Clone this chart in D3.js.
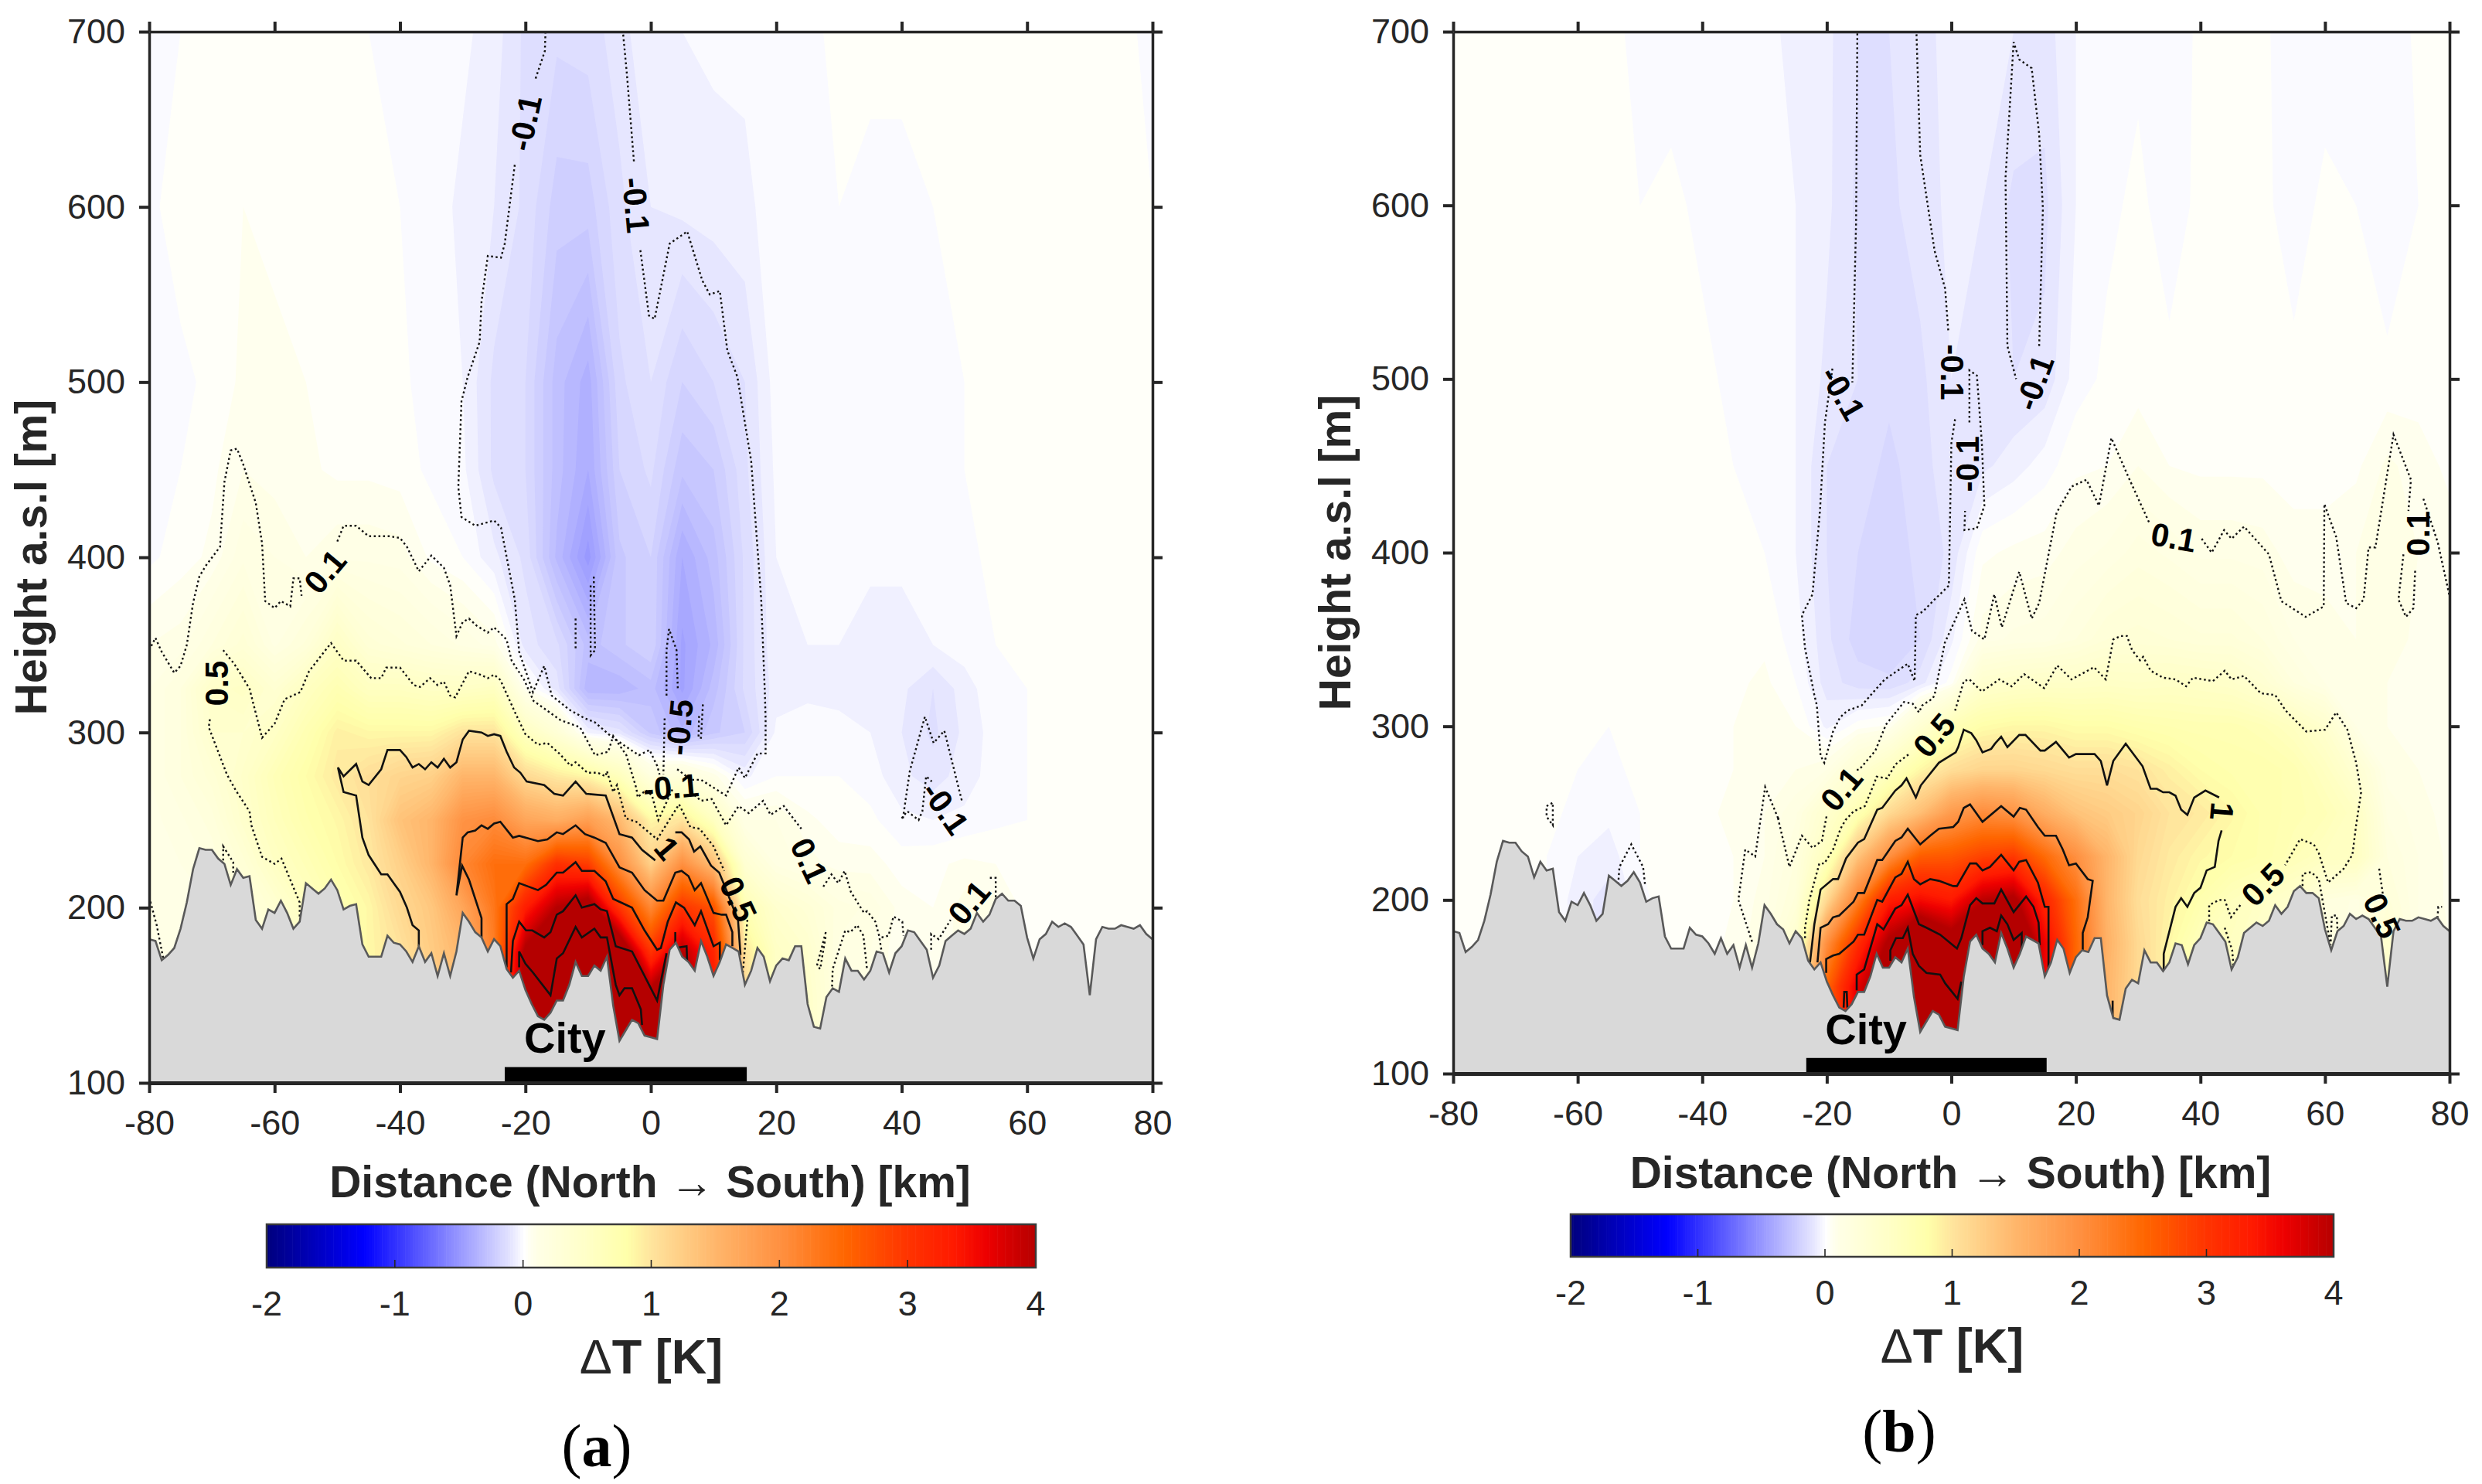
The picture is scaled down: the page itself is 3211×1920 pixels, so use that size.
<!DOCTYPE html>
<html>
<head>
<meta charset="utf-8">
<script src="https://cdn.jsdelivr.net/npm/d3@7"></script>
<style>
  html, body { margin: 0; background: #fff; }
  text { font-family: "Liberation Sans", Arial, sans-serif; fill: #262626; }
  .title { font-size: 57px; font-weight: bold; }
  .clabel { font-size: 42px; font-weight: bold; fill: #000; }
  .tag { font-family: "Liberation Serif", serif; font-size: 78px; fill: #000; }
</style>
</head>
<body>
<svg id="chart" width="3211" height="1920"></svg>
<script>
// ---------- data ----------
const xTicks = [-80, -60, -40, -20, 0, 20, 40, 60, 80];
const yTicks = [100, 200, 300, 400, 500, 600, 700];
const barTicks = [-2, -1, 0, 1, 2, 3, 4];
const cityBar = [-23.3, 15.3];
const cityBarTop = 109;

const colorStops = [-2, -1.25, -1, -0.5, -0.1, -0.05, 0, 0.05, 0.1, 0.5, 0.8, 1, 1.5, 2, 2.5, 3, 3.35, 3.6, 4];
const colorValues = ["#00007f", "#0000ff", "#3333ff", "#9999ff", "#e6e6ff", "#f3f3ff", "#ffffff", "#fffff0", "#ffffe6", "#ffffc6", "#ffffaa", "#ffe39c",
  "#ffb56a", "#ff9040", "#ff6600", "#ff3300", "#ff1a00", "#ee0000", "#b40000"];

// ground height, one value per km from -80 to 80
const terrain = [182,181,170,173,177,188,203,222,234,233,233,228,225,213,222,217,218,193,188,199,
  197,204,197,188,192,214,211,208,211,216,210,199,201,202,179,172,172,172,184,180,
  179,175,169,178,169,174,161,174,161,175,197,192,186,183,175,182,178,165,160,164,
  153,145,138,136,140,147,147,156,169,161,161,167,164,172,144,124,130,136,134,127,
  126,125,156,176,180,172,169,164,181,172,161,169,179,177,175,156,164,177,172,158,
  167,171,170,178,178,145,132,131,149,154,152,171,164,164,159,164,175,174,163,174,
  178,187,186,181,176,160,167,181,184,187,185,188,197,192,196,205,208,204,204,201,
  183,171,182,185,192,189,191,189,184,179,150,182,189,188,188,190,189,188,190,185,182];

// dT field: columns at fieldKm, rows at fieldH
const fieldKm = [-80,-75,-70,-65,-60,-55,-50,-45,-40,-35,-30,-25,-20,-15,-10,-5,0,5,10,15,20,25,30,35,40,45,50,55,60,65,70,75,80];
const fieldH = [700,600,500,450,400,350,325,300,275,250,225,200,175,150,125];

const fieldA = [
  [-.02,0,.02,.03,.02,.02,.01,0,-.01,-.01,-.03,-.06,-.13,-.15,-.14,-.1,-.04,-.04,-.03,-.03,-.02,-.01,.01,.01,.01,.01,.01,.01,.01,.01,.01,.01,-.01],
  [-.01,.02,.03,.04,.03,.02,.01,.01,0,-.02,-.05,-.08,-.13,-.22,-.22,-.13,-.08,-.07,-.06,-.05,-.02,-.01,0,-.01,-.01,0,.01,.01,.01,.01,.01,.01,0],
  [-.02,-.01,.01,.05,.05,.04,.02,.02,.01,-.02,-.04,-.13,-.16,-.3,-.38,-.17,-.12,-.2,-.16,-.12,-.02,-.02,-.01,-.01,-.02,-.01,0,.01,.01,.01,.01,.01,0],
  [-.01,0,.03,.08,.06,.05,.03,.03,.02,-.01,-.03,-.13,-.16,-.3,-.4,-.2,-.15,-.27,-.24,-.13,-.03,-.02,-.01,-.02,-.01,-.01,0,.01,.01,.01,.01,.01,0],
  [-.01,.02,.05,.15,.12,.08,.11,.11,.1,.03,0,-.07,-.13,-.33,-.5,-.25,-.2,-.4,-.3,-.15,-.04,-.03,-.03,-.03,-.03,-.03,-.01,.01,.01,.01,0,0,0],
  [.08,.1,.2,.3,.15,.25,.5,.3,.25,.2,.15,.1,-.1,-.15,-.3,-.25,-.2,-.45,-.35,-.15,-.05,-.04,-.04,-.06,-.06,-.04,-.02,0,.01,.01,.01,0,0],
  [.12,.2,.45,.5,.35,.55,.7,.55,.55,.5,.5,.55,.05,-.1,-.35,-.35,-.3,-.45,-.3,-.15,-.06,-.05,-.05,-.08,-.07,-.12,-.06,-.01,0,.01,.01,0,0],
  [.12,.2,.4,.4,.5,.7,.9,.85,.85,.85,1,1,.55,.3,-.05,-.1,-.25,-.35,-.25,-.2,-.03,-.02,-.03,-.04,-.08,-.13,-.07,-.02,0,.01,.01,.01,.01],
  [.12,.2,.3,.45,.65,.8,.95,1.05,1.15,1.2,1.5,1.5,1.1,.95,.85,.6,.2,.25,.1,-.05,0,0,0,-.02,-.07,-.1,-.06,-.02,0,.01,.01,.01,.01],
  [.1,.15,.22,.42,.6,.75,.85,1,1.35,1.5,1.95,2.05,1.7,1.6,1.8,1.45,.85,1,.55,.12,.12,.05,.02,.01,-.03,-.04,-.03,-.01,0,.01,.01,.01,.01],
  [.08,.12,.17,.3,.52,.65,.8,.95,1.2,1.5,2.1,2.4,2.4,3.05,2.9,2,1.2,2,1.4,.35,.15,.1,.06,.06,.02,.03,.05,.04,0,0,.01,.01,.01],
  [.08,.1,.12,.2,.35,.55,.7,.85,1.1,1.3,1.7,2.3,3.3,4,4.3,3,2.1,3,2.7,.7,.4,.3,.18,.15,.06,.04,.1,.1,.02,.02,.02,.01,.01],
  [.08,.1,.1,.15,.3,.5,.7,.85,1,1.25,1.5,2.2,4.1,4.6,5,4.6,3,4,3.2,1,.5,.4,.15,.12,.05,.05,.1,.1,.02,.02,.03,.01,.01],
  [.08,.1,.1,.15,.3,.5,.7,.85,1,1.2,1.4,2,4.4,5.3,5.5,5.1,4.2,4.5,3.4,1.1,.5,.45,.15,.12,.05,.05,.1,.1,.02,.02,.03,.01,.01],
  [.08,.1,.1,.15,.3,.5,.7,.85,1,1.2,1.4,2,4.5,5.4,5.5,5.2,4.5,4.5,3.4,1.1,.5,.45,.15,.12,.05,.05,.1,.1,.02,.02,.03,.01,.01]
];

const fieldB = [
  [.01,.02,.02,.02,.01,.02,-.02,-.02,-.03,-.04,-.03,-.05,-.07,-.12,-.12,-.09,-.07,-.06,-.08,-.1,-.04,-.02,-.01,-.03,.01,.01,.01,-.03,-.02,-.04,-.03,.01,.02],
  [.03,.03,.03,.02,.03,.02,0,.01,-.01,-.02,-.03,-.04,-.07,-.13,-.13,-.1,-.07,-.08,-.13,-.13,-.04,-.01,.01,-.02,.01,.01,.01,-.02,.01,0,-.03,0,.02],
  [.02,.03,.02,.03,.02,.03,.02,.02,.01,-.01,-.01,-.04,-.09,-.12,-.15,-.13,-.08,-.09,-.12,-.11,-.02,.01,.02,.01,.01,.02,.02,.01,.01,.01,.01,.02,.02],
  [.02,.02,.02,.02,.03,.03,.02,.02,.01,0,-.01,-.04,-.12,-.14,-.17,-.14,-.09,-.09,-.06,-.02,.03,.04,.08,.04,.03,.03,.03,.02,.02,.03,.09,.06,.03],
  [.01,.01,.01,0,.01,.01,.02,.02,.02,.01,0,-.04,-.12,-.16,-.18,-.15,-.11,.03,.05,.06,.1,.13,.18,.15,.11,.11,.1,.06,.06,.08,.1,.08,.06],
  [.02,.01,.01,.01,0,.01,.01,.01,.02,.02,.03,-.02,-.11,-.18,-.2,-.16,-.05,.1,.13,.14,.2,.28,.3,.28,.25,.25,.2,.12,.1,.08,.1,.07,.05],
  [.02,.01,.01,.01,0,0,.01,.02,.03,.03,.05,0,-.1,-.14,-.15,-.1,.02,.4,.45,.48,.48,.5,.48,.5,.48,.45,.35,.2,.12,.1,.08,.07,.04],
  [.03,.02,.01,.01,0,0,.01,.02,.03,.04,.05,.04,-.05,.02,.05,.35,.65,.8,.85,.85,.8,.8,.75,.72,.7,.7,.65,.55,.4,.12,.08,.07,.05],
  [.03,.02,.01,.01,0,-.01,.01,.02,.03,.04,.06,.08,.12,.35,.55,.85,1.05,1.15,1.15,1.1,1.05,1.05,1,.9,.8,.75,.75,.7,.55,.35,.1,.08,.05],
  [.03,.03,.02,.01,-.01,-.03,0,.02,.03,.05,.08,.15,.4,.7,1.1,1.4,1.85,2.05,1.95,1.6,1.35,1.25,1.15,1,.95,.85,.75,.7,.65,.52,.15,.1,.06],
  [.03,.03,.02,0,-.04,-.06,0,.02,.03,.04,.08,.2,.6,1.35,2,2.6,2.65,2.85,2.95,2.45,2,1.5,1.1,.95,.85,.8,.75,.65,.55,.55,.2,.12,.07],
  [.03,.03,.02,0,-.06,-.1,-.01,.02,.02,.04,.1,.25,1.1,2.2,3.3,3.5,3.35,3.95,4.1,3.2,2.4,1.5,1.05,.9,.75,.6,.5,.4,.2,.15,.25,.12,.07],
  [.03,.03,.02,.01,-.06,-.1,-.01,.02,.02,.05,.12,.4,2,3.1,4.1,4.8,4.3,4.7,4.9,3.6,2.5,1.55,1.1,.85,.6,.55,.4,.35,.2,.12,.4,.12,.08],
  [.03,.03,.02,.01,-.05,-.08,-.01,.02,.02,.05,.12,.5,2.5,3.7,4.5,5.2,5,5,5,3.6,2.5,1.5,1.1,.85,.6,.5,.4,.3,.2,.12,.45,.12,.08],
  [.03,.03,.02,.01,-.05,-.08,-.01,.02,.02,.05,.12,.5,2.5,3.7,4.5,5.2,5,5,5,3.6,2.5,1.5,1.1,.85,.6,.5,.4,.3,.2,.12,.45,.12,.08]
];

// contour lines, [km, height], null = gap in the line
const dashedA = [
  // 0.1
  [[-80,347],[-79,354],[-78,346],[-76,334],[-75,338],[-74,350],[-73,374],[-72,389],[-71,395],[-68.7,406],[-68,443],[-67,461],[-66,462],[-65,453],[-63,431],[-62,408],[-61.5,375],[-60,371],[-59,375],[-57.5,372],[-57,388],[-56,388],[-55.7,378],null,
   [-50,409],[-49,418],[-47,418],[-45,412],[-41.7,412],[-40,411],[-38.9,406],[-37,392],[-35,401],[-33,394],[-32,384],[-31,355],[-30,363],[-29,365],[-27.8,361],[-26,357],[-25,360],[-23,353],[-22.2,341],[-20.2,330],[-18.7,318],[-14.4,307],[-11.3,303],[-8.9,287],[-6.8,289],[-6,298],[-3.9,287],[-2.3,268],[-2.1,263],[-0.8,267],[0.2,264],[1.2,250],[3.5,268],null,
   [6.4,266],[8,261],[9.7,262],[12,247],[14,258],[15.6,254],[17.9,261],[19.1,253],[21.2,258],[24,245],null,[27.5,212],[28.8,219],[29.9,214],[30.9,221],[31.9,209],[34,197],[34.5,198],[35.8,192],[36.4,184],[36.8,175]],
  [[36.8,183],[37.9,184],[38.7,195],[40.1,192],[40.3,184]],
  [[44.7,176],[44.7,185],[45.9,182],[47.8,193]],
  [[55,206],[55,217],[54,217]],
  [[28.9,155],[29,165],[31,187],[31.8,186],[32.9,190],[33.9,184],[34.5,164]],
  [[27.9,186],[26.5,167],[27,165],[27.9,184]],
  [[-80,206],[-78.8,190],[-77.7,170]],
  [[-68.2,227],[-68.2,235],[-66.6,226],[-66.6,220]],
  // 0.5
  [[-56,195],[-56,203],[-58.9,228],[-60,225],[-62,229],[-63.7,247],[-64,255],[-66.2,267],[-67.6,276],[-70.5,303],[-70.3,308],null,[-68.2,347],[-66.4,339],[-64,325],[-62,297],[-60,305],[-58.4,319],[-55.9,323],[-54.5,335],[-51,351],[-49,341],[-47,341],[-44.6,331],[-43,331],[-42.2,337],[-40,337],[-37.8,327],[-36.8,326],[-35.2,331],[-34,327],[-33,329],[-32,321],[-31.2,320],[-29,335],[-27.2,333],[-26,331],[-25,333],[-24,330],[-21.6,311],[-20,299],[-18,293],[-16.5,294],[-14.6,288],[-12.8,281],[-12,283],[-10.1,277],[-8.5,277],[-7.2,275],[-7,278],[-6,266],[-5.4,270],[-4,251],[-2.3,249],[1,239],[4.5,259],[6.3,246],[7.8,245],[10,235],[11.7,221],null,[15.4,193],[14.5,156]],
  // -0.1
  [[-16.8,700],[-16.9,689],[-18.4,673],null,[-21.7,624],[-23.3,579],[-23.9,571],[-26,572],[-27,546],[-27.3,523],[-29.2,503],[-30.2,489],[-30.7,440],[-30.2,423],[-28,418],[-25,421],[-23.9,417],[-21.7,376],[-21,346],[-18.8,323],[-17,338],[-15.8,321],[-13,313],[-10.5,308],[-9,306],[-6.4,298],[-4,292],[-1.9,287],[-0.2,290],[1,281],[1.4,276],null,[4.2,279],[6.4,273],[8,273],[12,264],[14,280],[15,274],[17,288],[18.3,288],[18.3,308],[18.2,321],[17.6,376],[16,455],[13.8,503],[12.2,518],[11,552],[9.4,550],[8.2,558],[5.8,586],[3,579],[0.6,536],[-0.3,538],[-1.7,576],null,[-2.7,626],[-3.8,675],[-4.4,698],[-4.5,700]],
  [[40.2,251],[41.3,278],[43.7,309],[45.1,294],[46.8,301],[49.6,261]],
  [[40,251],[40.9,255],[42.7,250],[43.3,255],[43.9,275],[44.8,272]],
  // -0.5
  [[-12,365],[-12,348]],
  [[-9.1,389],[-8.9,347],[-9.6,344],[-9.6,385]],
  [[2.5,321],[2.5,347],[2.9,359],[4.1,347],[4.3,325]],
  [[2.2,308],[2,276]],
  [[8.3,316],[8,297],[7.6,297],[7.7,310]]
];
const solidA = [
  // 1
  [[-37,178],[-37,187],[-38,190],[-38.9,200],[-40,209],[-42,219],[-43,219],[-45,230],[-46,240],[-47,264],[-49,266],[-49.9,280],[-49,275],[-47,282],[-46,272],[-45,270],[-43,279],[-42,290],[-40,290],[-39,286],[-38,280],[-37,282],[-36,279],[-35,283],[-34,280],[-33,285],[-32,280],[-31,283],[-30,296],[-29,301],[-27,300],[-26,298],[-25,299],[-24,298],[-23,289],[-21.8,280],[-20.8,277],[-19.8,272],[-17,270],[-15.4,265],[-14,264],[-12,272],[-10.3,265],[-7.2,264],[-5,242],[-3,240],[-1.4,233],[0.7,227],null,[3.9,243],[4.9,243],[6.1,239],[6.9,232],[7.9,235],[9.6,224],[10.9,220],[11.7,213],[13.9,193],[14.3,173]],
  // 2
  [[-27,183],[-27,194],[-28,205],[-29,216],[-30.1,224],[-31,207],[-30,240],[-29.2,243],[-28,244],[-27,247],[-26,245],[-25,248],[-24,249],[-22,240],[-21,241],[-18,238],[-16.5,239],[-15,243],[-14,242],[-12,247],[-10.5,242],[-9,240],[-7.2,237],[-5,223],[-3,220],[-1,210],[1,204],[2,204],[3.9,220],[4.9,221],[6,218],[7,210],[8,214],[10,197],[11.3,196],[12,196],[13,186],[13,178]],
  // 3
  [[-23,166],[-23,202],[-22,205],[-21,214],[-18,210],[-16.7,213],[-15,220],[-14,220],[-12,226],[-11,221],[-9,221],[-7.2,215],[-6,205],[-3,200],[-1,187],[1,176],[1.6,177],[2.7,192],[4,203],[5.3,200],[7,190],[8,198],[10,178],[11,180],[11,170]],
  // 4
  [[-22.3,163],[-22,181],[-21,192],[-19.9,187],[-18.9,187],[-17,183],[-16,186],[-15,196],[-14,198],[-12,207],[-11,200],[-9,202],[-8,199],[-7,198],[-5.6,178],[-3,175],[-1,161],[1,147],[2.5,174]],
  [[3.9,186],[3.9,177],[5.7,178],[5.8,168]],
  // 5
  [[-21,166],[-21,175],[-20,168],[-18.8,163],[-16,150],[-15,171],[-14,174],[-12,189],[-11,183],[-9,188],[-8,183],[-7,183],[-5.6,156],[-5,150],[-4.2,154],[-3,154],[-1.6,142],[-1.4,133]]
];
const labelsA = ["-0.1", "-0.1", "0.1", "0.5", "-0.5", "-0.1", "1", "0.5", "0.1", "-0.1", "0.1"];
const labelKmA = [-20.1, -2.3, -52, -69.3, 4.5, 3.2, 2.6, 14, 25.3, 47, 50.7];
const labelHA = [648, 601, 392, 328, 303, 269, 234, 205, 227, 257, 203];
const labelAngleA = [-78, 85, -50, -90, -85, -5, 50, 65, 65, 55, -50];

const dashedB = [
  // 0.1
  [[-32,176],[-34.2,200],[-33.1,229],[-31.5,225],[-29.9,265],[-27.7,246],[-27.9,248],[-26,219],[-24,237],[-22.3,230],[-20.8,234],[-20,249],null,[-15.2,275],[-14.8,275],[-12.2,286],[-10.5,301],[-7.6,314],[-6.2,313],[-5.2,308],[-4.7,312],[-3,316],[-2.7,318],[-1.06,348],[2.1,373],[3.3,355],[5.3,350],[6.9,376],[8.1,357],[10.9,389],[12.9,362],[14.1,371],[16.9,423],[19.3,438],[21.7,442],[23.7,427],[25.7,466],[28.5,443],[31.8,417],null,[40.2,408],[41.8,400],[43.8,413],[45,408],[47,415],[51,399],[53,372],[56.9,363],[59.8,369],[59.9,428],[61.8,409],[63.4,371],[65,368],[66.2,373],[67,403],[68.1,403],[71,468],[73.8,442],[73.4,424],null,[72.6,399],[71.8,373],[73,363],[74.2,368],[74.5,391]],
  [[75.8,431],[78.1,406],[80,375]],
  [[-65,254],[-64,256],[-64,243],[-65,248],[-65,254]],
  [[-53.5,209],[-53.3,219],[-51.4,232],[-49.5,219],[-49.2,209]],
  [[56.4,208],[56.4,215],[57.8,216],[59,212],[60.9,174],[61.1,191],[61.9,191],[62,183]],
  [[43.9,184],[45.1,171],[45.3,162]],
  [[78,187],[78.2,196],[78.8,196]],
  // 0.5
  [[-23.5,178],[-23.5,184],[-22.8,200],[-21.2,221],[-20.4,221],[-19,229],[-17.8,241],[-17,246],[-15.7,251],[-13.9,254],[-12.4,267],[-12,271],[-10.3,270],[-9,278],[-6.8,284],null,[0.6,309],[2,326],[2.9,327],[4.9,320],[7.7,327],[9.7,323],[11.7,330],[14.9,322],[17,335],[19.3,327],[22.9,334],[24.8,327],[26,350],[27.2,352],[28.2,352],[29,344],[30.3,338],[30.8,340],[32,332],[34,328],[36,327],[37.7,323],[38.8,328],[42,326],[43.9,332],[45,327],[47,329],[49.7,319],[52,318],[53.7,309],[57,297],[60,298],[61.8,308],[63.6,298],[65,279],[65.8,262],[65,243],[64.4,226],[63,218],[60.5,210],[59,227],[58.2,232],[56,235],[53.6,220],null,[46.4,197],[44.9,190],[43.9,200],[43,200],[41.4,197],[41.4,187]],
  [[68.7,218],[69.3,203]],
  // -0.1
  [[-15.1,699],[-15.3,590],[-15.9,498]],
  [[-19.1,506],[-20.3,475],[-21.1,424],[-22.3,376],[-24,364],[-23.5,345],[-22,318],[-21.6,312],[-21,283],[-20.4,279],[-19,297],[-17.9,305],[-16.7,309],[-14.4,312],[-12.2,321],[-10.7,327],[-7,336],[-5.9,326],[-5.7,364],[-4.6,366],[-2.7,373],[-0.4,381],[0,463],[0.6,477],null,[-0.5,528],[-1,552],[-2.7,574],[-5,629],[-5.6,699]],
  [[2.9,475],[2.9,505],[4.1,502],[4.9,463],[5.3,427],[4.1,414],[2.1,413],[2.2,424]],
  [[14.1,519],[14.7,598],[14.1,641],[12.9,679],[10.9,684],[10,694],[8.7,616],[9,519],[10.4,500]]
];
const solidB = [
  // 1
  [[-22.7,164],[-22,186],[-21,206],[-19,212],[-18.2,212],[-16.9,224],[-15,233],[-14,235],[-11.9,252],[-11.1,253],[-9,263],[-8,266],[-7.2,270],[-5.7,259],[-4.9,266],[-2,279],[0.7,285],[1.1,288],[2,298],[3.2,296],[4,292],[5,285],[6.4,287],[7,290],[8,294],[9,288],[10.9,295],[11.9,295],[14.3,286],[15,286],[16.8,291],[18.9,282],[20,284],[23,284],[24,280],[25,266],[26,280],[28,290],[30.7,277],[32,264],[33,264],[34,262],[35,262],[36,260],[36.9,252],[37.9,249],[39,259],[40.8,263],[43,259],null,[43.4,240],[42.9,234],[42.3,219],[41,217],[40,207],[39,204],[37.9,196],[36.9,201],[36,196],[34.1,169],[34.1,159]],
  // 2
  [[-21.5,164],[-21,184],[-19.8,186],[-19,190],[-18,191],[-15.7,199],[-15,204],[-14,204],[-11.9,223],[-11.1,223],[-9,234],[-8,236],[-7,241],[-5,232],[-3.4,237],[-2,241],[0.3,242],[1.1,245],[2,253],[3,255],[4.2,249],[5,245],[8,254],[10,248],[11,253],[12,252],[13.9,242],[15,237],[16.8,237],[17.9,229],[18.9,220],[20,221],[21.9,212],[22.7,211],[21.9,190],[21.1,181],[21.1,171]],
  // 3
  [[-20.1,158],[-20.1,166],[-19,168],[-18,169],[-15.7,176],[-15,180],[-14,180],[-11.9,200],[-11.1,199],[-9,213],[-8,215],[-7,222],[-6,212],[-5,209],[-3.4,212],[-2,211],[0.3,208],[0.9,208],[3,221],[4,221],[5,217],[6.2,219],[8,226],[10,217],[10.9,222],[12,223],[13.9,210],[15,196],[15.6,196],[15.6,159]],
  // 4
  [[-15.2,148],[-15.2,157],[-14,160],[-11.9,186],[-10.9,183],[-9,195],[-8,197],[-7,203],[-5.2,186],[-4,184],[-1.8,180],[0.9,172],[1.6,178],[3,197],[4,201],[5,198],[6.9,198],[8,206],[10,193],[12,202],[13.2,196],[14,187],[14.2,174]],
  // 5
  [[-9.8,165],[-9.8,171],[-8.9,178],[-7.8,178],[-7,184],[-6.2,169],[-5.2,162],[-4,158],[-1.8,157],[-1,152],[1,143],[1.6,153]],
  [[5,174],[5,182],[6.2,184],[7.3,182],[8,191],[9,186],[10,177],[11.3,181],[11.3,172]],
  [[-17.3,138],[-17.2,147],[-16.8,147],[-16.7,138]],
  [[25.9,142],[25.9,132]]
];
const labelsB = ["-0.1", "-0.1", "-0.1", "-0.1", "0.1", "0.1", "0.5", "0.1", "1", "0.5", "0.5"];
const labelKmB = [-17.4, 0.2, 2.5, 13.3, 35.7, 74.9, -2.8, -17.7, 43.5, 50, 69.2];
const labelHB = [492, 504, 451, 498, 409, 411, 295, 264, 251, 209, 191];
const labelAngleB = [60, 90, -90, -70, 10, -90, -50, -50, 95, -45, 65];

// ---------- drawing ----------
const svg = d3.select("#chart");
const color = d3.scaleLinear().domain(colorStops).range(colorValues).clamp(true);
const levelStep = 0.04;
const levels = d3.range(-1, 4.01, levelStep);
const terrainKm = d3.range(-80, 81);

function drawPanel(id, opt) {
  const g = svg.append("g").attr("id", id);
  const x = d3.scaleLinear().domain([-80, 80]).range([opt.left, opt.right]);
  const y = d3.scaleLinear().domain([100, 700]).range([opt.bottom, opt.top]);

  g.append("clipPath").attr("id", id + "-clip").append("rect")
    .attr("x", opt.left).attr("y", opt.top)
    .attr("width", opt.right - opt.left).attr("height", opt.bottom - opt.top);
  const plot = g.append("g").attr("clip-path", `url(#${id}-clip)`);

  // filled field
  const kmOfCol = d3.scaleLinear().domain([0, fieldKm.length - 1]).range([fieldKm[0], fieldKm[fieldKm.length - 1]]);
  const hOfRow = d3.scaleLinear().domain(fieldH.map((d, i) => i)).range(fieldH);
  const toPage = d3.geoTransform({
    point(cx, cy) { this.stream.point(x(kmOfCol(cx - 0.5)), y(hOfRow(cy - 0.5))); }
  });
  const contours = d3.contours().size([fieldKm.length, fieldH.length]).thresholds(levels);
  plot.append("rect").attr("x", opt.left).attr("y", opt.top)
    .attr("width", opt.right - opt.left).attr("height", opt.bottom - opt.top)
    .attr("fill", color(-1));
  plot.selectAll("path.band").data(contours(opt.field.flat())).enter().append("path")
    .attr("class", "band")
    .attr("d", d3.geoPath(toPage))
    .attr("fill", d => color(d.value + levelStep / 2));

  // contour lines, ground goes over their ends
  const line = d3.line().defined(d => d !== null).x(d => x(d[0])).y(d => y(d[1]));
  plot.selectAll("path.dash").data(opt.dashed).enter().append("path")
    .attr("class", "dash").attr("d", line).attr("fill", "none")
    .attr("stroke", "#111").attr("stroke-width", 2.4).attr("stroke-dasharray", "2.5 3.5");
  plot.selectAll("path.solid").data(opt.solid).enter().append("path")
    .attr("class", "solid").attr("d", line).attr("fill", "none")
    .attr("stroke", "#111").attr("stroke-width", 2.6);

  // ground
  const area = d3.area().x((d, i) => x(terrainKm[i])).y0(y(100)).y1(d => y(d));
  plot.append("path").datum(terrain).attr("d", area).attr("fill", "#d9d9d9");
  plot.append("path").datum(terrain)
    .attr("d", d3.line().x((d, i) => x(terrainKm[i])).y(d => y(d)))
    .attr("fill", "none").attr("stroke", "#595959").attr("stroke-width", 2.6);

  // city marker
  plot.append("rect").attr("x", x(cityBar[0])).attr("y", y(cityBarTop))
    .attr("width", x(cityBar[1]) - x(cityBar[0])).attr("height", y(100) - y(cityBarTop))
    .attr("fill", "#000");
  g.append("text").attr("x", x(-13.7)).attr("y", y(117)).attr("text-anchor", "middle")
    .style("font-size", "56px").style("font-weight", "bold").style("fill", "#000").text("City");

  // contour labels
  g.selectAll("text.clabel").data(opt.labels).enter().append("text")
    .attr("class", "clabel").attr("text-anchor", "middle").attr("dy", "0.36em")
    .attr("transform", (d, i) => `translate(${x(opt.labelKm[i])},${y(opt.labelH[i])}) rotate(${opt.labelAngle[i]})`)
    .text(d => d);

  // axes
  const styleAxis = a => {
    a.selectAll("path.domain").attr("stroke", "#262626").attr("stroke-width", 3.5);
    a.selectAll("line").attr("stroke", "#262626").attr("stroke-width", 4);
  };
  g.append("g").attr("transform", `translate(0,${opt.bottom})`)
    .call(d3.axisBottom(x).tickValues(xTicks).tickSize(13).tickSizeOuter(0).tickPadding(22).tickFormat(d => d)).call(styleAxis)
    .select("path.domain").attr("stroke-width", 5);
  g.append("g").attr("transform", `translate(0,${opt.top})`)
    .call(d3.axisTop(x).tickValues(xTicks).tickSize(13).tickSizeOuter(0).tickFormat("")).call(styleAxis);
  g.append("g").attr("transform", `translate(${opt.left},0)`)
    .call(d3.axisLeft(y).tickValues(yTicks).tickSize(13).tickSizeOuter(0).tickPadding(18)).call(styleAxis);
  g.append("g").attr("transform", `translate(${opt.right},0)`)
    .call(d3.axisRight(y).tickValues(yTicks).tickSize(13).tickSizeOuter(0).tickFormat("")).call(styleAxis);
  g.selectAll(".tick text").style("font-family", '"Liberation Sans", Arial, sans-serif').style("font-size", "45px").attr("fill", "#262626");

  // axis titles
  const xTitle = g.append("text").attr("class", "title").attr("text-anchor", "middle")
    .attr("x", (opt.left + opt.right) / 2 - 1).attr("y", opt.bottom + 148);
  xTitle.append("tspan").text("Distance (North ");
  xTitle.append("tspan").style("font-weight", "normal").text("\u2192");
  xTitle.append("tspan").text(" South) [km]");
  g.append("text").attr("class", "title").attr("text-anchor", "middle")
    .attr("transform", `translate(${opt.left - 133},${(opt.top + opt.bottom) / 2}) rotate(-90)`)
    .text("Height a.s.l [m]");

  // colour bar
  const bar = d3.scaleLinear().domain([-2, 4]).range([opt.barLeft, opt.barRight]);
  const barSteps = d3.range(-2, 4, 0.02);
  g.selectAll("rect.swatch").data(barSteps).enter().append("rect")
    .attr("class", "swatch")
    .attr("x", d => bar(d)).attr("y", opt.barTop)
    .attr("width", bar(0.02) - bar(0) + 0.6).attr("height", opt.barHeight)
    .attr("fill", d => color(d));
  g.append("rect").attr("x", opt.barLeft).attr("y", opt.barTop)
    .attr("width", opt.barRight - opt.barLeft).attr("height", opt.barHeight)
    .attr("fill", "none").attr("stroke", "#3a3a3a").attr("stroke-width", 2.5);
  g.selectAll("line.barTick").data(barTicks.slice(1, -1)).enter().append("line")
    .attr("class", "barTick")
    .attr("x1", d => bar(d)).attr("x2", d => bar(d))
    .attr("y1", opt.barTop + opt.barHeight - 10).attr("y2", opt.barTop + opt.barHeight)
    .attr("stroke", "#262626").attr("stroke-width", 1.6);
  g.selectAll("text.barLabel").data(barTicks).enter().append("text")
    .attr("class", "barLabel").attr("text-anchor", "middle")
    .attr("x", d => bar(d)).attr("y", opt.barTop + opt.barHeight + 62)
    .style("font-size", "45px").text(d => d);
  const barTitle = g.append("text").attr("class", "title").attr("text-anchor", "middle")
    .style("font-size", "63px")
    .attr("x", (opt.barLeft + opt.barRight) / 2).attr("y", opt.barTop + opt.barHeight + 137);
  barTitle.append("tspan").style("font-weight", "normal").text("\u0394");
  barTitle.append("tspan").text("T [K]");

  // panel tag
  const tag = g.append("text").attr("class", "tag").attr("text-anchor", "middle")
    .attr("x", opt.tagX).attr("y", opt.tagY);
  tag.append("tspan").text("(");
  tag.append("tspan").style("font-weight", "bold").text(opt.tag);
  tag.append("tspan").text(")");
}

drawPanel("a", {
  left: 193, right: 1491, top: 41, bottom: 1401,
  field: fieldA, dashed: dashedA, solid: solidA,
  labels: labelsA, labelKm: labelKmA, labelH: labelHA, labelAngle: labelAngleA,
  barLeft: 345, barRight: 1340, barTop: 1584, barHeight: 56, tag: "a", tagX: 772, tagY: 1897
});
drawPanel("b", {
  left: 1880, right: 3169, top: 41, bottom: 1389,
  field: fieldB, dashed: dashedB, solid: solidB,
  labels: labelsB, labelKm: labelKmB, labelH: labelHB, labelAngle: labelAngleB,
  barLeft: 2032, barRight: 3019, barTop: 1571, barHeight: 55, tag: "b", tagX: 2457, tagY: 1878
});
</script>
</body>
</html>
